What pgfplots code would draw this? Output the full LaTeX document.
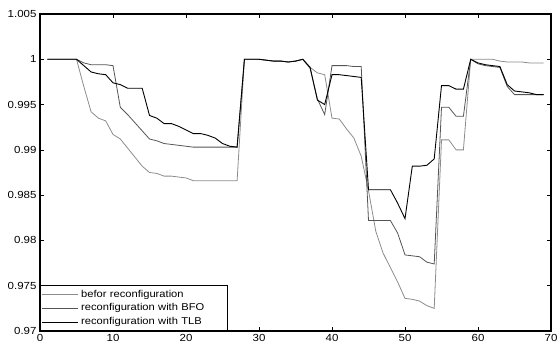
\documentclass[border=0pt]{standalone}
\usepackage{pgfplots}
\pgfplotsset{compat=1.18}
\usepackage{pgfplotstable}
\usepackage{fontspec}
\setmainfont{Liberation Sans}[FakeStretch=1.12]
\definecolor{cbefore}{RGB}{140,140,140}
\definecolor{cbfo}{RGB}{85,85,85}
\definecolor{ctlb}{RGB}{0,0,0}
\pgfplotstableread{
x before bfo tlb
1 1 1 1
2 1 1 1
3 1 1 1
4 1 1 1
5 1 1 1
6 0.9970 0.9996 0.9993
7 0.9942 0.9994 0.9986
8 0.9935 0.9994 0.9984
9 0.9932 0.9994 0.9983
10 0.9917 0.9993 0.9974
11 0.9912 0.9947 0.9972
12 0.9902 0.9939 0.9968
13 0.9892 0.9930 0.9968
14 0.9882 0.9921 0.9968
15 0.9875 0.9912 0.9938
16 0.9874 0.9910 0.9935
17 0.9871 0.9907 0.9929
18 0.9871 0.9906 0.9929
19 0.9870 0.9905 0.9926
20 0.9869 0.9904 0.9922
21 0.9866 0.9903 0.9918
22 0.9866 0.9903 0.9918
23 0.9866 0.9903 0.9916
24 0.9866 0.9903 0.9913
25 0.9866 0.9903 0.9907
26 0.9866 0.9903 0.9904
27 0.9866 0.9903 0.9903
28 1 1 1
29 1 1 1
30 1 1 1
31 0.9999 0.9999 0.9999
32 0.9998 0.9998 0.9998
33 0.9998 0.9998 0.9998
34 0.9997 0.9997 0.9997
35 0.9998 0.9998 0.9998
36 1 1 1
37 0.9991 0.9990 0.9991
38 0.9985 0.9956 0.9955
39 0.9983 0.9939 0.9950
40 0.9935 0.9993 0.9983
41 0.9934 0.9993 0.9983
42 0.9923 0.9993 0.9982
43 0.9913 0.9992 0.9981
44 0.9893 0.9992 0.9980
45 0.9855 0.9822 0.9856
46 0.9810 0.9822 0.9856
47 0.9786 0.9822 0.9856
48 0.9770 0.9822 0.9856
49 0.9754 0.9808 0.9841
50 0.9736 0.9784 0.9824
51 0.9735 0.9783 0.9882
52 0.9733 0.9782 0.9882
53 0.9728 0.9776 0.9883
54 0.9725 0.9774 0.9890
55 0.9911 0.9947 0.9971
56 0.9911 0.9947 0.9971
57 0.9900 0.9937 0.9967
58 0.9900 0.9937 0.9967
59 1 1 1
60 1 0.9995 0.9996
61 1 0.9993 0.9994
62 1 0.9992 0.9993
63 0.9998 0.9991 0.9992
64 0.9997 0.9970 0.9972
65 0.9997 0.9961 0.9965
66 0.9997 0.9961 0.9964
67 0.9996 0.9961 0.9963
68 0.9996 0.9961 0.9961
69 0.9996 0.9961 0.9961
}\datatable
\begin{document}
\begin{tikzpicture}
\begin{axis}[
  scale only axis,
  width=511bp, height=317bp,
  xmin=0, xmax=70, ymin=0.97, ymax=1.005,
  xtick={0,10,...,70},
  ytick={0.97,0.975,0.98,0.985,0.99,0.995,1,1.005},
  yticklabels={0.97,0.975,0.98,0.985,0.99,0.995,1,1.005},
  /pgf/number format/assume math mode=true,
  tick align=inside,
  major tick length=4bp,
  tick style={black, line width=0.6bp},
  axis line style={black, line width=1.2bp},
  ticklabel style={font=\fontsize{10.3}{12}\selectfont},
  legend cell align=left,
  legend image code/.code={\draw[#1] (0bp,0bp) -- (36bp,0bp);},
  legend style={at={(0,0)}, anchor=south west, draw=black, line width=1bp,
    inner sep=1.5bp, font=\fontsize{10}{12}\selectfont,
    nodes={text height=7.5bp, text depth=2bp, inner sep=2.2bp, text width=143bp, align=left}},
]
\addplot[cbefore, line width=0.8bp] table[x=x, y=before] {\datatable};
\addlegendentry{befor reconfiguration}
\addplot[cbfo, line width=0.8bp] table[x=x, y=bfo] {\datatable};
\addlegendentry{reconfiguration with BFO}
\addplot[ctlb, line width=0.9bp] table[x=x, y=tlb] {\datatable};
\addlegendentry{reconfiguration with TLB}
\end{axis}
\pgfresetboundingbox
\path[use as bounding box] ([xshift=-40bp,yshift=-16bp]current axis.south west) rectangle ([xshift=9bp,yshift=14bp]current axis.north east);
\end{tikzpicture}
\end{document}
